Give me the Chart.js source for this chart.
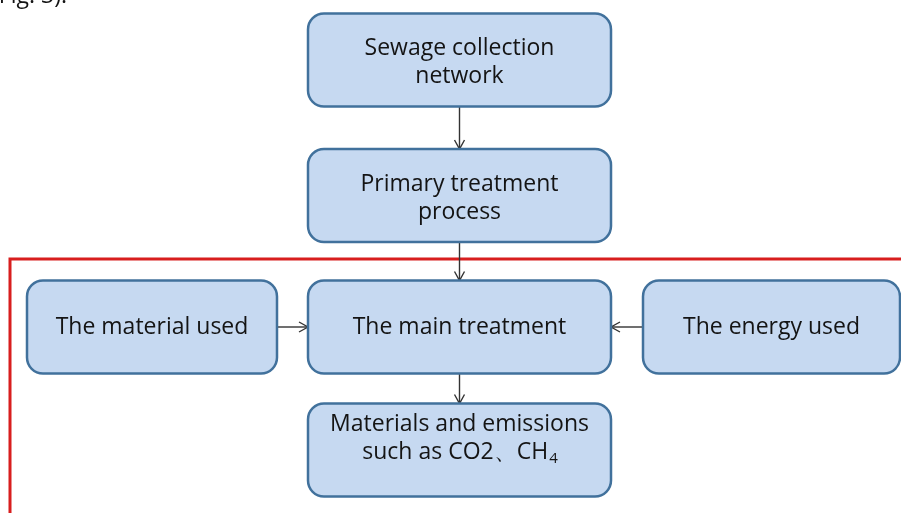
<!DOCTYPE html>
<html>
<head>
<meta charset="utf-8">
<script src="https://cdn.jsdelivr.net/npm/chart.js@4.4.0/dist/chart.umd.min.js"></script>
<style>
  html, body { margin: 0; padding: 0; background: #fff; }
  #wrap { width: 901px; height: 513px; position: relative; }
</style>
</head>
<body>
<div id="wrap"><canvas id="chart"></canvas></div>
<script>
// flowchart nodes (diagram units = page pixels, y grows downward)
var nodeLabels = [
    ["Sewage collection", "network"],
    ["Primary treatment", "process"],
    ["The main treatment"],
    ["The material used"],
    ["The energy used"],
    ["Materials and emissions", "such as CO2\u3001CH_4"]
];
var nodeX = [459.5, 459.5, 459.5, 152, 771.5, 459.5];
var nodeY = [60, 195.5, 327, 327, 327, 450];
var nodeW = [303, 303, 303, 250, 257, 303];
var nodeH = [93, 93, 93, 93, 93, 93];
// arrows: [from, to]
var edges = [[0, 1], [1, 2], [3, 2], [4, 2], [2, 5]];
// red boundary line
var frameX = [10, 10, 901];
var frameY = [513, 259, 259];

var FONT = '"Open Sans", "Noto Sans", sans-serif';
var textShift = [2, 3, 0, 0, 0, -12];

function drawLabel(ctx, text, cx, cy, size) {
    // "_x" means subscript x
    var parts = text.split('_');
    ctx.font = size + 'px ' + FONT;
    var mainW = ctx.measureText(parts[0]).width;
    var subW = 0;
    if (parts.length > 1) {
        ctx.font = Math.round(size * 0.65) + 'px ' + FONT;
        subW = ctx.measureText(parts[1]).width;
    }
    var x0 = cx - (mainW + subW) / 2;
    ctx.textAlign = 'left';
    ctx.textBaseline = 'middle';
    ctx.font = size + 'px ' + FONT;
    ctx.fillText(parts[0], x0, cy);
    if (parts.length > 1) {
        ctx.font = Math.round(size * 0.65) + 'px ' + FONT;
        ctx.fillText(parts[1], x0 + mainW + 1, cy + size * 0.3);
    }
}

function arrowHead(ctx, x, y, dx, dy) {
    var len = 9, half = 5;
    ctx.beginPath();
    ctx.moveTo(x - dx * len - dy * half, y - dy * len + dx * half);
    ctx.lineTo(x, y);
    ctx.lineTo(x - dx * len + dy * half, y - dy * len - dx * half);
    ctx.stroke();
}

var flowPlugin = {
    id: 'flow',
    afterDatasetsDraw: function (chart) {
        var ctx = chart.ctx;
        var xs = chart.scales.x, ys = chart.scales.y;
        var box = function (i) {
            return {
                l: xs.getPixelForValue(nodeX[i] - nodeW[i] / 2),
                r: xs.getPixelForValue(nodeX[i] + nodeW[i] / 2),
                t: ys.getPixelForValue(nodeY[i] - nodeH[i] / 2),
                b: ys.getPixelForValue(nodeY[i] + nodeH[i] / 2),
                cx: xs.getPixelForValue(nodeX[i]),
                cy: ys.getPixelForValue(nodeY[i])
            };
        };
        ctx.save();

        // arrows
        ctx.strokeStyle = '#333';
        ctx.lineWidth = 1.4;
        edges.forEach(function (e) {
            var a = box(e[0]), b = box(e[1]);
            var x1, y1, x2, y2;
            if (Math.abs(a.cx - b.cx) < 1) {
                x1 = x2 = a.cx;
                y1 = a.b; y2 = b.t;
            } else if (a.cx < b.cx) {
                y1 = y2 = a.cy; x1 = a.r; x2 = b.l;
            } else {
                y1 = y2 = a.cy; x1 = a.l; x2 = b.r;
            }
            ctx.beginPath();
            ctx.moveTo(x1, y1);
            ctx.lineTo(x2, y2);
            ctx.stroke();
            var d = Math.hypot(x2 - x1, y2 - y1);
            arrowHead(ctx, x2, y2, (x2 - x1) / d, (y2 - y1) / d);
        });

        // boxes
        for (var i = 0; i < nodeLabels.length; i++) {
            var bb = box(i);
            ctx.beginPath();
            ctx.roundRect(bb.l, bb.t, bb.r - bb.l, bb.b - bb.t, 16);
            ctx.fillStyle = '#c6d9f1';
            ctx.fill();
            ctx.lineWidth = 2.5;
            ctx.strokeStyle = '#41719c';
            ctx.stroke();
            ctx.fillStyle = '#141414';
            var lines = nodeLabels[i];
            var lh = 28;
            var top = bb.cy + textShift[i] - (lines.length - 1) * lh / 2;
            lines.forEach(function (t, k) {
                drawLabel(ctx, t, bb.cx, top + k * lh, 23);
            });
        }

        // cut-off caption from the page above
        ctx.fillStyle = '#141414';
        ctx.font = '23px ' + FONT;
        ctx.textAlign = 'right';
        ctx.textBaseline = 'alphabetic';
        ctx.fillText('Fig. 3).', 67, 3);
        ctx.restore();
    }
};

new Chart(document.getElementById('chart'), {
    type: 'scatter',
    data: {
        datasets: [{
            label: 'nodes',
            data: nodeX.map(function (x, i) { return { x: x, y: nodeY[i] }; }),
            pointRadius: 0
        }, {
            type: 'line',
            label: 'boundary',
            data: frameX.map(function (x, i) { return { x: x, y: frameY[i] }; }),
            borderColor: '#d81e1e',
            borderWidth: 3,
            pointRadius: 0,
            fill: false,
            tension: 0
        }]
    },
    options: {
        responsive: true,
        maintainAspectRatio: false,
        animation: false,
        layout: { padding: 0 },
        plugins: { legend: { display: false }, tooltip: { enabled: false } },
        scales: {
            x: { type: 'linear', min: 0, max: 901, display: false },
            y: { type: 'linear', min: 0, max: 513, reverse: true, display: false }
        }
    },
    plugins: [flowPlugin]
});
</script>
</body>
</html>
